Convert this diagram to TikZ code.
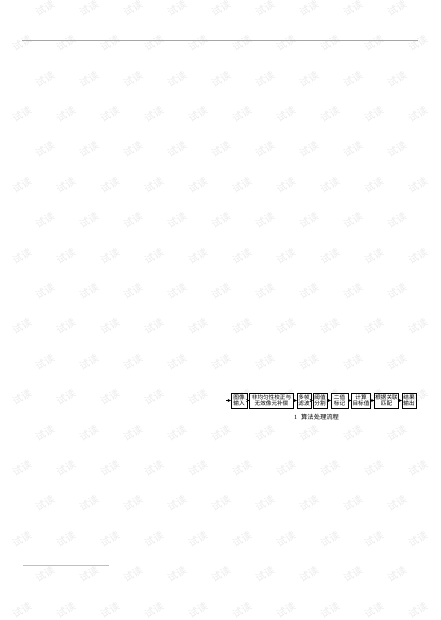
\documentclass[tikz,border=0pt]{standalone}
\usepackage{fontspec}
\setmainfont{Liberation Serif}
\newfontfamily\cjk{Noto Sans CJK SC}
\usetikzlibrary{positioning}

\tikzset{
  stepbox/.style={draw, line width=0.4pt, align=center, inner xsep=0.8pt, inner ysep=0.6pt,
    minimum height=15pt, font=\cjk\fontsize{5.6}{6.6}\selectfont},
  flow/.style={->, >=stealth, line width=0.4pt},
  wmark/.style={text=black!8, rotate=30, inner sep=0pt, font=\cjk\fontsize{10}{10}\selectfont}
}

\begin{document}
\begin{tikzpicture}[x=1pt,y=-1pt]
\useasboundingbox (0,0) rectangle (440,620);
% watermark
\foreach \j in {0,...,17}{
  \pgfmathtruncatemacro\odd{mod(\j,2)}
  \pgfmathtruncatemacro\last{8+\odd}
  \foreach \i in {0,...,\last}
    \node[wmark] (wm-\j-\i) at ({45-23*\odd+44*\i},{8+35.4*\j}) {试读};
}

% rules of the page
\draw[black!35, line width=0.8pt] (22,40) -- (418,40);
\draw[black!25, line width=1pt] (23,565) -- (109,565);

% flow
\coordinate (src) at (226,400.5);
\node[stepbox, minimum width=16pt] (in) at (239,400.5) {图像\\输入};
\node[stepbox, minimum width=44pt] (nuc) at (271.5,400.5) {非均匀性校正与\\无效像元补偿};
\node[stepbox, minimum width=14pt] (filt) at (304,400.5) {多帧\\滤波};
\node[stepbox, minimum width=14pt] (thr) at (320,400.5) {阈值\\分割};
\node[stepbox, minimum width=17pt] (bin) at (339.5,400.5) {二值\\标记};
\node[stepbox, minimum width=19pt] (calc) at (361,400.5) {计算\\目标值};
\node[stepbox, minimum width=23pt] (match) at (386.5,400.5) {根据关联\\匹配};
\node[stepbox, minimum width=14pt] (out) at (409,400.5) {结果\\输出};

\draw[flow] (src) -- (in);
\foreach \a/\b in {in/nuc, nuc/filt, filt/thr, thr/bin, bin/calc, calc/match, match/out}
  \draw[flow] (\a) -- (\b);

\node[font=\fontsize{6.3}{7}\selectfont] (cap) at (316.5,417) {1\hspace{4pt}{\cjk 算法处理流程}};
\end{tikzpicture}
\end{document}
